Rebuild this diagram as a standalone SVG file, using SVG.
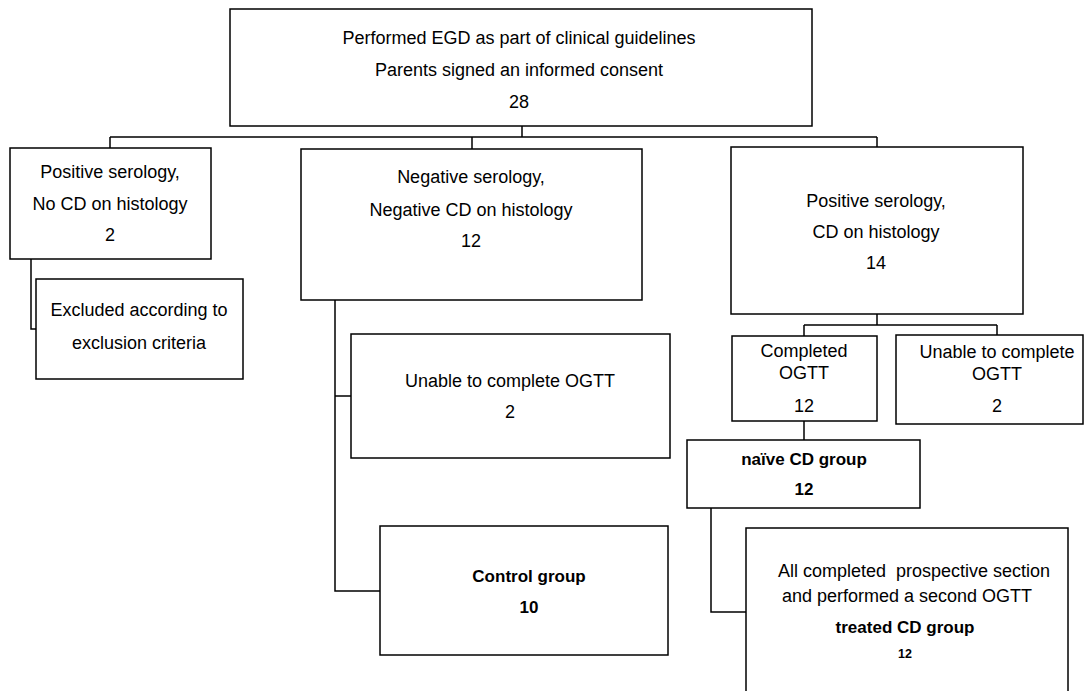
<svg xmlns="http://www.w3.org/2000/svg" width="1085" height="691" viewBox="0 0 1085 691">
<style>
.box{fill:#fff;stroke:#000;stroke-width:1.5}
.t{font-family:"Liberation Sans",Arial,sans-serif;font-size:18px;fill:#000;text-anchor:middle}
.b{font-weight:bold;font-size:17px}
.s{font-size:12.5px}
.c{fill:none;stroke:#000;stroke-width:1.5}
</style>
<rect width="1085" height="691" fill="#fff"/>
<g id="connectors">
<path class="c" d="M522,126V137M110,137H877M110,137V148M472,137V149M877,137V147"/>
<path class="c" d="M31,259V329H36"/>
<path class="c" d="M335,300V591H380M335,396H351"/>
<path class="c" d="M877,314V325M804,325H997M804,325V336M997,325V335"/>
<path class="c" d="M804,421V440"/>
<path class="c" d="M711,508V612H746"/>
</g>
<g id="top">
<rect class="box" x="230" y="9" width="582" height="117"/>
<text class="t" x="519" y="44">Performed EGD as part of clinical guidelines</text>
<text class="t" x="519" y="76">Parents signed an informed consent</text>
<text class="t" x="519" y="108">28</text>
</g>
<g id="pos-nocd">
<rect class="box" x="10" y="148" width="201" height="111"/>
<text class="t" x="110" y="178">Positive serology,</text>
<text class="t" x="110" y="210">No CD on histology</text>
<text class="t" x="110" y="241">2</text>
</g>
<g id="excluded">
<rect class="box" x="36" y="279" width="207" height="100"/>
<text class="t" x="139" y="316">Excluded according to</text>
<text class="t" x="139" y="349">exclusion criteria</text>
</g>
<g id="negative">
<rect class="box" x="301" y="149" width="341" height="151"/>
<text class="t" x="471" y="183">Negative serology,</text>
<text class="t" x="471" y="216">Negative CD on histology</text>
<text class="t" x="471" y="247">12</text>
</g>
<g id="unable-mid">
<rect class="box" x="351" y="334" width="319" height="124"/>
<text class="t" x="510" y="387">Unable to complete OGTT</text>
<text class="t" x="510" y="418">2</text>
</g>
<g id="control">
<rect class="box" x="380" y="526" width="288" height="129"/>
<text class="t b" x="529" y="582">Control group</text>
<text class="t b" x="529" y="613">10</text>
</g>
<g id="pos-cd">
<rect class="box" x="731" y="147" width="292" height="167"/>
<text class="t" x="876" y="207">Positive serology,</text>
<text class="t" x="876" y="238">CD on histology</text>
<text class="t" x="876" y="269">14</text>
</g>
<g id="completed">
<rect class="box" x="732" y="336" width="145" height="85"/>
<text class="t" x="804" y="357">Completed</text>
<text class="t" x="804" y="379">OGTT</text>
<text class="t" x="804" y="412">12</text>
</g>
<g id="unable-right">
<rect class="box" x="896" y="335" width="187" height="89"/>
<text class="t" x="997" y="358">Unable to complete</text>
<text class="t" x="997" y="380">OGTT</text>
<text class="t" x="997" y="412">2</text>
</g>
<g id="naive">
<rect class="box" x="687" y="440" width="233" height="68"/>
<text class="t b" x="804" y="465">naïve CD group</text>
<text class="t b" x="804" y="495">12</text>
</g>
<g id="treated">
<rect class="box" x="746" y="528" width="322" height="180"/>
<text class="t" x="914" y="577" xml:space="preserve" style="white-space:pre">All completed  prospective section</text>
<text class="t" x="907" y="602">and performed a second OGTT</text>
<text class="t b" x="905" y="633">treated CD group</text>
<text class="t b s" x="905" y="658">12</text>
</g>
</svg>
